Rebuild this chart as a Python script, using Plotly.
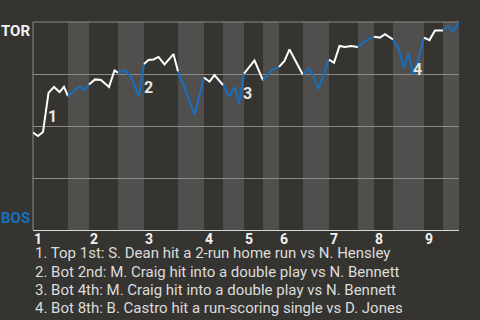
import plotly.graph_objects as go

# Win probability for TOR (1 = TOR, 0 = BOS) by play index
play = [0, 1.0, 2.0, 3.1, 4.2, 5.3, 6.2, 7.0, 9.3, 10.3, 11.2, 12.4, 13.6, 15.2, 16.3, 17.0,
        18.3, 19.6, 21.2, 22.2, 23.1, 24.1, 25.1, 26.3, 28.1, 29.0, 30.4, 32.3, 34.2, 35.3,
        36.3, 38.0, 39.2, 40.3, 41.2, 42.2, 44.3, 46.0, 47.8, 49.2, 50.3, 51.3, 54.0, 55.2,
        56.1, 57.1, 58.3, 59.2, 60.2, 61.3, 62.4, 63.6, 65.0, 66.2, 67.7, 68.2, 69.4, 70.4,
        72.0, 73.1, 74.1, 75.1, 76.1, 77.3, 78.2, 79.3, 80.4, 82.0, 83.0, 84.0, 85.2]
tor_wp = [0.469, 0.452, 0.471, 0.659, 0.688, 0.663, 0.688, 0.644, 0.690, 0.673, 0.700, 0.724,
          0.721, 0.688, 0.767, 0.757, 0.769, 0.736, 0.644, 0.798, 0.817, 0.820, 0.832, 0.796,
          0.846, 0.762, 0.678, 0.553, 0.733, 0.713, 0.745, 0.697, 0.642, 0.688, 0.608, 0.752,
          0.815, 0.719, 0.769, 0.784, 0.813, 0.868, 0.745, 0.777, 0.736, 0.678, 0.761, 0.819,
          0.804, 0.885, 0.880, 0.885, 0.880, 0.905, 0.925, 0.929, 0.925, 0.941, 0.916, 0.873,
          0.781, 0.851, 0.748, 0.841, 0.925, 0.913, 0.959, 0.959, 0.978, 0.954, 1.0]

# half-inning boundaries (play index)
half_bounds = [0, 7.0, 11.2, 17.0, 22.2, 29.0, 34.2, 38.0, 42.2, 46.0, 49.2, 54.0, 59.2,
               65.0, 68.2, 72.0, 78.2, 82.0, 85.2]
inning_labels = ["1", "2", "3", "4", "5", "6", "7", "8", "9"]

event_play = [2.0, 21.2, 41.2, 76.1]
event_labels = ["1", "2", "3", "4"]
event_text = [
    "1. Top 1st: S. Dean hit a 2-run home run vs N. Hensley",
    "2. Bot 2nd: M. Craig hit into a double play vs N. Bennett",
    "3. Bot 4th: M. Craig hit into a double play vs N. Bennett",
    "4. Bot 8th: B. Castro hit a run-scoring single vs D. Jones",
]

BG = "#363431"
BAND = "#504f4d"
BLUE = "#1570c0"
WHITE = "#ffffff"
FONT = "Roboto"

fig = go.Figure()

shapes = []
for h in range(len(half_bounds) - 1):
    if h % 2 == 1:
        shapes.append(dict(type="rect", xref="x", yref="paper", x0=half_bounds[h],
                           x1=half_bounds[h + 1], y0=0, y1=1, fillcolor=BAND,
                           line=dict(width=0), layer="below"))
# top line and left line
shapes.append(dict(type="line", xref="paper", yref="paper", x0=0, x1=1, y0=1, y1=1,
                   line=dict(color="#8c8b89", width=1), layer="below"))
shapes.append(dict(type="line", xref="paper", yref="paper", x0=0, x1=0, y0=0, y1=1,
                   line=dict(color="#8c8b89", width=1), layer="below"))

eps = 1e-6
for h in range(len(half_bounds) - 1):
    b0, b1 = half_bounds[h], half_bounds[h + 1]
    xs = [p for p in play if b0 - eps <= p <= b1 + eps]
    ys = [w for p, w in zip(play, tor_wp) if b0 - eps <= p <= b1 + eps]
    fig.add_trace(go.Scatter(x=xs, y=ys, mode="lines",
                             line=dict(color=WHITE if h % 2 == 0 else BLUE, width=2),
                             hoverinfo="skip", showlegend=False))

annotations = []
# event markers
shifts = [(9, 16), (9, 9), (8, 10), (4, 5)]
for (p, lab), (dx, dy) in zip(zip(event_play, event_labels), shifts):
    yv = tor_wp[play.index(p)]
    annotations.append(dict(x=p, y=yv, xref="x", yref="y", text=lab, showarrow=False,
                            xshift=dx, yshift=dy,
                            font=dict(family=FONT, size=16, color="#e6e6e6", weight="bold")))
# inning labels
inning_starts = half_bounds[0:-1:2]
for s, lab in zip(inning_starts, inning_labels):
    annotations.append(dict(x=s, y=0, xref="x", yref="paper", text=lab, showarrow=False,
                            xanchor="left", yanchor="top", xshift=-1, yshift=1,
                            font=dict(family=FONT, size=14, color="#f2f2f2", weight="bold")))
# team labels
annotations.append(dict(x=0, y=1, xref="paper", yref="paper", text="TOR", showarrow=False,
                        xanchor="right", yanchor="top", xshift=-1, yshift=2,
                        font=dict(family=FONT, size=15, color="#f2f2f2", weight="bold")))
annotations.append(dict(x=0, y=0, xref="paper", yref="paper", text="BOS", showarrow=False,
                        xanchor="right", yanchor="bottom", xshift=-1, yshift=1,
                        font=dict(family=FONT, size=15, color=BLUE, weight="bold")))
# event descriptions
for i, t in enumerate(event_text):
    annotations.append(dict(x=0, y=0, xref="paper", yref="paper", text=t, showarrow=False,
                            xanchor="left", yanchor="middle", xshift=0,
                            yshift=-(23.3 + 18.2 * i),
                            font=dict(family=FONT, size=15, color="#dcdcdc")))

fig.update_layout(
    width=480, height=320,
    margin=dict(l=33, r=21, t=22, b=90),
    paper_bgcolor=BG, plot_bgcolor=BG,
    shapes=shapes, annotations=annotations,
    xaxis=dict(range=[0, 85.2], showgrid=False, zeroline=False, showticklabels=False,
               showline=True, linecolor="#d8d8d8", linewidth=1, fixedrange=True),
    yaxis=dict(range=[0, 1], tickvals=[0.25, 0.5, 0.75], showgrid=True,
               gridcolor="#8c8b89", gridwidth=1, zeroline=False, showticklabels=False,
               showline=False, fixedrange=True),
)

fig.write_html("out.html")
